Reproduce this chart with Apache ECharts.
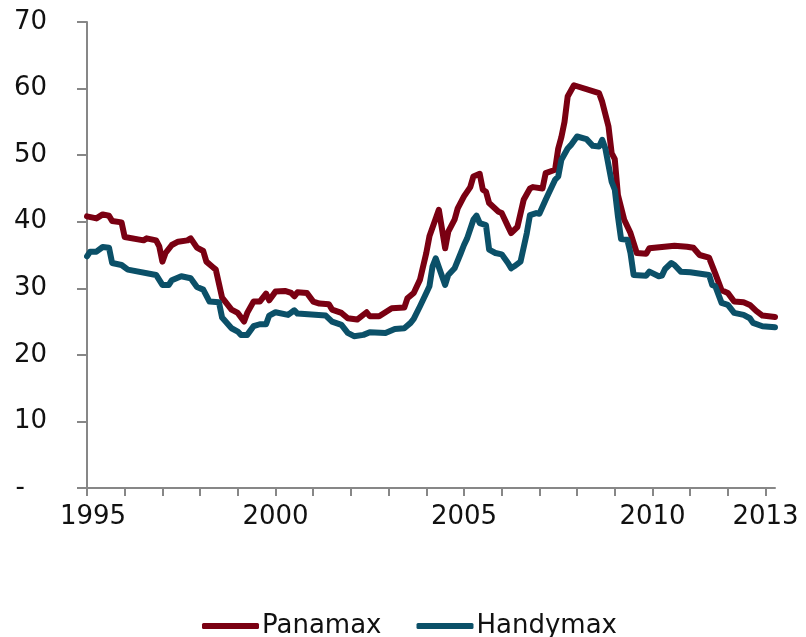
<!DOCTYPE html>
<html>
<head>
<meta charset="utf-8">
<script src="https://cdn.jsdelivr.net/npm/echarts@6/dist/echarts.min.js"></script>
<style>
  html, body { margin: 0; padding: 0; background: #fff; }
  #chart { width: 806px; height: 637px; }
</style>
</head>
<body>
<div id="chart"></div>
<script>
// Monthly price readings (USD million), Jan 1995 – Apr 2013
const panamaxDates = [
  '1995-01','1995-04','1995-06','1995-08','1995-09','1995-12','1996-01','1996-07','1996-08','1996-11',
  '1996-12','1997-01','1997-02','1997-04','1997-06','1997-09','1997-10','1997-12','1998-02','1998-03',
  '1998-05','1998-06','1998-08','1998-11','1999-01','1999-03','1999-04','1999-06','1999-08','1999-10',
  '1999-11','2000-01','2000-04','2000-06','2000-07','2000-08','2000-11','2001-01','2001-03','2001-06',
  '2001-07','2001-10','2001-12','2002-03','2002-06','2002-07','2002-10','2003-02','2003-06','2003-07',
  '2003-09','2003-11','2004-01','2004-02','2004-05','2004-07','2004-08','2004-10','2004-11','2005-01',
  '2005-03','2005-04','2005-06','2005-07','2005-08','2005-09','2005-12','2006-01','2006-03','2006-04',
  '2006-06','2006-08','2006-10','2006-11','2007-02','2007-03','2007-06','2007-07','2007-08','2007-09',
  '2007-10','2007-12','2008-08','2008-09','2008-11','2008-12','2009-01','2009-02','2009-04','2009-06',
  '2009-08','2009-11','2009-12','2010-04','2010-08','2010-12','2011-02','2011-04','2011-07','2011-09',
  '2011-11','2012-01','2012-03','2012-06','2012-08','2012-10','2012-12','2013-04'
];
const panamaxValues = [
  40.8, 40.5, 41.1, 40.9, 40.1, 39.9, 37.7, 37.2, 37.5, 37.2,
  36.3, 34.0, 35.3, 36.5, 37.0, 37.2, 37.5, 36.1, 35.6, 34.0,
  33.2, 32.8, 28.6, 26.8, 26.3, 25.0, 26.3, 28.0, 28.0, 29.2,
  28.2, 29.5, 29.6, 29.3, 28.8, 29.4, 29.3, 28.0, 27.7, 27.6,
  26.8, 26.3, 25.5, 25.3, 26.4, 25.8, 25.8, 27.0, 27.1, 28.5,
  29.3, 31.3, 35.3, 37.8, 41.8, 36.0, 38.5, 40.3, 42.0, 43.8,
  45.2, 46.8, 47.2, 44.8, 44.5, 42.8, 41.5, 41.3, 39.3, 38.3,
  39.2, 43.3, 45.0, 45.2, 45.0, 47.3, 47.8, 51.0, 52.7, 55.0,
  58.8, 60.5, 59.3, 58.0, 54.3, 50.3, 49.4, 44.0, 40.3, 38.3,
  35.3, 35.2, 36.0, 36.2, 36.4, 36.25, 36.1, 35.0, 34.6, 32.2,
  29.7, 29.3, 28.0, 27.9, 27.5, 26.6, 25.9, 25.7
];

const handymaxDates = [
  '1995-01','1995-02','1995-04','1995-06','1995-08','1995-09','1995-12','1996-02','1996-11','1997-01',
  '1997-03','1997-04','1997-07','1997-10','1997-12','1998-02','1998-04','1998-07','1998-08','1998-11',
  '1999-01','1999-02','1999-04','1999-06','1999-08','1999-10','1999-11','2000-01','2000-05','2000-07',
  '2000-08','2001-05','2001-07','2001-10','2001-12','2002-02','2002-05','2002-07','2002-12','2003-03',
  '2003-06','2003-08','2003-09','2003-11','2004-01','2004-02','2004-03','2004-04','2004-07','2004-08',
  '2004-10','2004-12','2005-01','2005-02','2005-04','2005-05','2005-06','2005-08','2005-09','2005-11',
  '2006-01','2006-03','2006-04','2006-05','2006-07','2006-09','2006-10','2006-12','2007-01','2007-03',
  '2007-04','2007-06','2007-07','2007-08','2007-10','2007-11','2008-01','2008-04','2008-06','2008-08',
  '2008-09','2008-10','2008-12','2009-01','2009-02','2009-03','2009-05','2009-06','2009-07','2009-11',
  '2009-12','2010-03','2010-04','2010-05','2010-07','2010-08','2010-10','2011-01','2011-07','2011-08',
  '2011-09','2011-11','2012-01','2012-03','2012-06','2012-08','2012-09','2012-12','2013-04'
];
const handymaxValues = [
  34.8, 35.5, 35.5, 36.2, 36.1, 33.8, 33.5, 32.8, 32.0, 30.5,
  30.5, 31.2, 31.8, 31.5, 30.2, 29.8, 28.0, 27.9, 25.6, 24.0,
  23.5, 23.0, 23.0, 24.3, 24.6, 24.6, 25.9, 26.4, 26.0, 26.7,
  26.2, 25.9, 25.0, 24.5, 23.3, 22.8, 23.0, 23.4, 23.3, 23.9,
  24.0, 24.8, 25.4, 27.3, 29.3, 30.3, 33.3, 34.5, 30.5, 32.0,
  33.0, 35.3, 36.5, 37.5, 40.3, 40.9, 39.8, 39.5, 35.8, 35.3,
  35.1, 33.8, 33.0, 33.3, 34.0, 38.3, 41.0, 41.3, 41.2, 43.3,
  44.3, 46.3, 46.8, 49.3, 51.0, 51.5, 52.8, 52.4, 51.4, 51.3,
  52.3, 51.0, 46.0, 44.8, 40.8, 37.4, 37.3, 35.3, 32.0, 31.9,
  32.5, 31.8, 31.9, 32.9, 33.8, 33.5, 32.5, 32.4, 32.0, 30.5,
  30.3, 27.8, 27.5, 26.3, 26.0, 25.5, 24.8, 24.3, 24.15
];

const labelledYears = [1995, 2000, 2005, 2010, 2013];
const yTicks = [0, 10, 20, 30, 40, 50, 60, 70];

// 'YYYY-MM' -> fractional year, so months sit on a continuous axis
function toYear(d) {
  const [y, m] = d.split('-').map(Number);
  return y + (m - 1) / 12;
}
const pairs = (dates, vals) => dates.map((d, i) => [toYear(d), vals[i]]);

const FONT = 'DejaVu Sans';
const AXIS_GRAY = '#878787';

const chart = echarts.init(document.getElementById('chart'), null, { renderer: 'canvas' });
chart.setOption({
  animation: false,
  backgroundColor: '#ffffff',
  textStyle: { fontFamily: FONT },
  grid: { left: 87, right: 31, top: 22, bottom: 149, outerBoundsMode: 'none', containLabel: false },
  legend: {
    data: ['Panamax', 'Handymax'],
    left: 197,
    top: 608,
    icon: 'roundRect',
    itemWidth: 57,
    itemHeight: 6,
    itemGap: 35,
    textStyle: { fontFamily: FONT, fontSize: 26, color: '#111', padding: [0, 0, 0, -2] }
  },
  xAxis: {
    type: 'value',
    min: 1995,
    max: toYear(panamaxDates[panamaxDates.length - 1]),
    interval: 1,
    splitLine: { show: false },
    axisLine: { lineStyle: { color: AXIS_GRAY, width: 2 } },
    axisTick: { show: true, length: 8, lineStyle: { color: AXIS_GRAY, width: 2 } },
    axisLabel: {
      margin: 16,
      fontFamily: FONT,
      fontSize: 26,
      color: '#111',
      showMaxLabel: false,
      formatter: v => {
        const y = Math.round(v);
        if (!labelledYears.includes(y)) return '';
        return y === 1995 ? '{first|' + y + '}' : String(y);
      },
      rich: { first: { fontFamily: FONT, fontSize: 26, color: '#111', padding: [0, 0, 0, 12] } }
    }
  },
  yAxis: {
    type: 'value',
    min: yTicks[0],
    max: yTicks[yTicks.length - 1],
    interval: 10,
    splitLine: { show: false },
    axisLine: { show: true, lineStyle: { color: AXIS_GRAY, width: 2 } },
    axisTick: { show: true, length: 10, lineStyle: { color: AXIS_GRAY, width: 2 } },
    axisLabel: {
      margin: 40,
      fontFamily: FONT,
      fontSize: 26,
      color: '#111',
      formatter: v => v === 0 ? '{zero|-}' : String(v),
      rich: { zero: { fontFamily: FONT, fontSize: 26, color: '#111', padding: [0, 22, 0, 0] } }
    }
  },
  series: [
    {
      name: 'Panamax',
      type: 'line',
      data: pairs(panamaxDates, panamaxValues),
      showSymbol: false,
      color: '#7a0012',
      lineStyle: { width: 6, cap: 'round', join: 'round' },
      z: 2
    },
    {
      name: 'Handymax',
      type: 'line',
      data: pairs(handymaxDates, handymaxValues),
      showSymbol: false,
      color: '#0b5068',
      lineStyle: { width: 6, cap: 'round', join: 'round' },
      z: 3
    }
  ]
});
</script>
</body>
</html>
